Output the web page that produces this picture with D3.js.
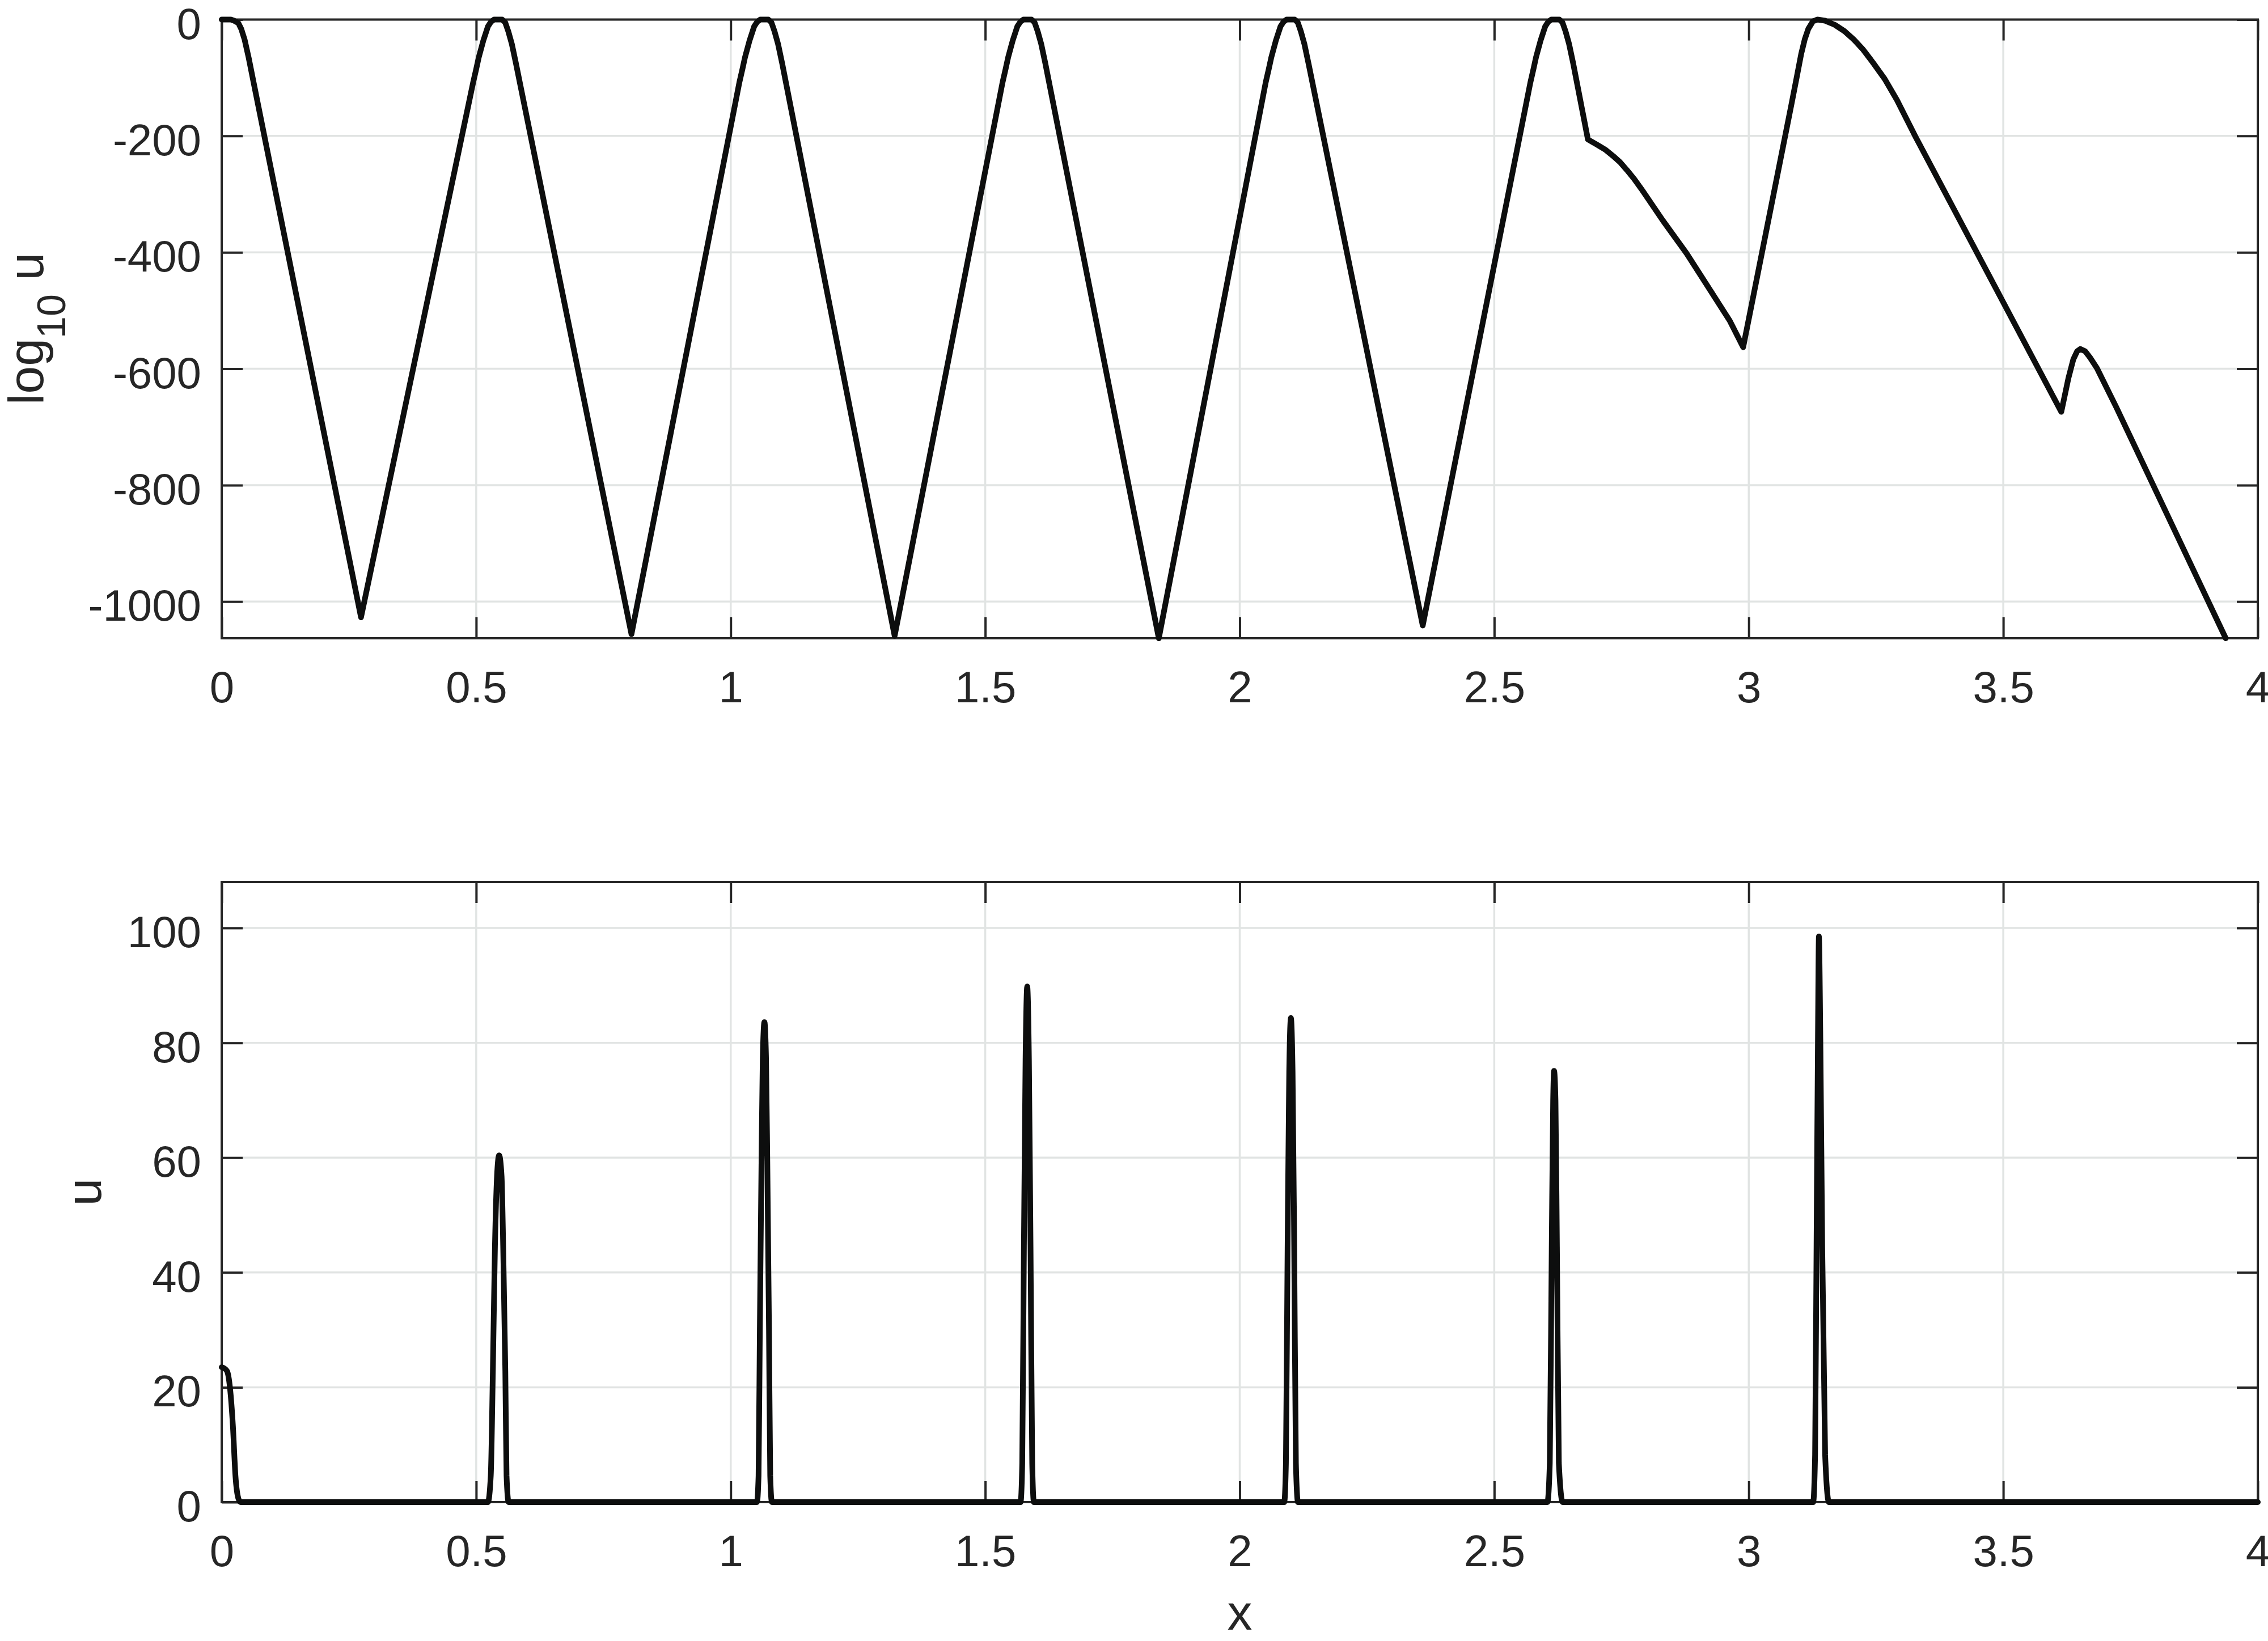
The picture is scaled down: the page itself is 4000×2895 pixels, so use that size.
<!DOCTYPE html>
<html>
<head>
<meta charset="utf-8">
<script src="https://cdn.jsdelivr.net/npm/d3@7"></script>
<style>
  body { margin: 0; background: #fff; }
  text { font-family: "Liberation Sans", Arial, Helvetica, sans-serif; fill: #262626; }
</style>
</head>
<body>
<script>
// x ticks shared by both panels
var xTicks = [0, 0.5, 1, 1.5, 2, 2.5, 3, 3.5, 4];
var xTickLabels = ["0", "0.5", "1", "1.5", "2", "2.5", "3", "3.5", "4"];

// top panel: log10 u
var logTicks = [-1000, -800, -600, -400, -200, 0];
var logTickLabels = ["-1000", "-800", "-600", "-400", "-200", "0"];
var logX = [0, 0.018, 0.0245, 0.0327, 0.0384, 0.0449, 0.0531, 0.0613,
  0.2737,
  0.494, 0.500, 0.505, 0.514, 0.523, 0.529, 0.535, 0.551, 0.557, 0.563, 0.570, 0.578,
  0.805,
  1.017, 1.023, 1.028, 1.037, 1.046, 1.052, 1.058, 1.074, 1.080, 1.086, 1.093, 1.101,
  1.322,
  1.534, 1.540, 1.545, 1.554, 1.563, 1.569, 1.575, 1.591, 1.597, 1.603, 1.610, 1.618,
  1.841,
  2.051, 2.057, 2.062, 2.071, 2.080, 2.086, 2.092, 2.108, 2.114, 2.120, 2.127, 2.135,
  2.3595,
  2.571, 2.577, 2.582, 2.591, 2.600, 2.606, 2.612, 2.628, 2.634, 2.640, 2.647, 2.655, 2.684,
  2.700, 2.719, 2.733, 2.747, 2.761, 2.775, 2.789, 2.803, 2.831, 2.878, 2.925, 2.963, 2.989,
  3.084, 3.094, 3.103, 3.110, 3.117, 3.126, 3.135, 3.150, 3.169, 3.188, 3.206, 3.225, 3.244,
  3.267, 3.291, 3.328,
  3.614, 3.628, 3.6375, 3.645, 3.6515, 3.661, 3.6706, 3.684, 3.722, 3.937];
var logU = [0, 0, -2, -6, -16, -34, -66, -102,
  -1027,
  -108, -85, -65, -36, -12, -4, 0, 0, -5, -20, -42, -75,
  -1056,
  -108, -85, -65, -36, -12, -4, 0, 0, -5, -20, -42, -75,
  -1059,
  -108, -85, -65, -36, -12, -4, 0, 0, -5, -20, -42, -75,
  -1063,
  -108, -85, -65, -36, -12, -4, 0, 0, -5, -20, -42, -75,
  -1041,
  -108, -85, -65, -36, -12, -4, 0, 0, -5, -20, -42, -75, -206,
  -214, -224, -234, -245, -259, -274, -291, -309, -345, -402, -466, -518, -563,
  -145, -100, -59, -34, -16, -3, 0, -2, -9, -20, -34, -52, -74,
  -102, -138, -202,
  -674, -616, -584, -570, -566, -570, -581, -599, -666, -1063];

// bottom panel: u
var uTicks = [0, 20, 40, 60, 80, 100];
var uTickLabels = ["0", "20", "40", "60", "80", "100"];
var uX = [0, 0.005, 0.0106, 0.0163, 0.022, 0.027, 0.0327, 0.037,
  0.523, 0.5286, 0.5327, 0.5368, 0.5409, 0.545, 0.5498, 0.553, 0.5572, 0.5596, 0.5637,
  1.0515, 1.0547, 1.0572, 1.0604, 1.0629, 1.0662, 1.0694, 1.0719, 1.0752, 1.0776, 1.0809,
  1.5694, 1.5727, 1.576, 1.5792, 1.5825, 1.5858, 1.589, 1.5923, 1.5956,
  2.0874, 2.0907, 2.094, 2.0972, 2.1005, 2.1038, 2.107, 2.1103, 2.1144,
  2.6044, 2.6091, 2.6129, 2.6157, 2.6175, 2.6203, 2.6231, 2.6269, 2.6344,
  3.1265, 3.1303, 3.1331, 3.1359, 3.1378, 3.1406, 3.1443, 3.15, 3.1575,
  4];
var uVal = [23.5, 23.3, 22.8, 19.9, 13.3, 4.6, 0.65, 0,
  0, 4.6, 22.8, 44.5, 56.8, 60.4, 56.8, 44.5, 22.8, 4.6, 0,
  0, 4.6, 30, 59, 77.1, 83.6, 77.1, 59, 30, 4.6, 0,
  0, 6.8, 44.5, 77.1, 89.8, 77.1, 44.5, 6.8, 0,
  0, 6.8, 44.5, 74.9, 84.3, 74.9, 44.5, 6.8, 0,
  0, 6.8, 44.5, 69.9, 75.1, 69.9, 44.5, 6.8, 0,
  0, 8.3, 44.5, 80.7, 98.5, 80.7, 44.5, 8.3, 0,
  0];

var W = 4000, H = 2895;
var left = 391, right = 3982;
var ink = "#262626", gridColor = "#e1e4e3";
var tickLen = 37, fontSize = 78;

var svg = d3.select("body").append("svg")
  .attr("width", W).attr("height", H);
svg.append("rect").attr("width", W).attr("height", H).attr("fill", "#fff");

var x = d3.scaleLinear().domain([0, 4]).range([left, right]);

function panel(top, bottom, yDomain, yTicks, yLabels, xs, ys, curve) {
  var y = d3.scaleLinear().domain(yDomain).range([bottom, top]);
  var g = svg.append("g");

  // grid
  g.selectAll(".gx").data(xTicks).enter().append("line")
    .attr("x1", d => x(d)).attr("x2", d => x(d))
    .attr("y1", top).attr("y2", bottom)
    .attr("stroke", gridColor).attr("stroke-width", 3.5);
  g.selectAll(".gy").data(yTicks).enter().append("line")
    .attr("x1", left).attr("x2", right)
    .attr("y1", d => y(d)).attr("y2", d => y(d))
    .attr("stroke", gridColor).attr("stroke-width", 3.5);

  // axes, ticks pointing in on all four sides
  var ax = g.append("g").attr("transform", "translate(" + left + ",0)")
    .call(d3.axisLeft(y).tickValues(yTicks).tickFormat((d, i) => yLabels[i])
      .tickSizeInner(-tickLen).tickSizeOuter(0).tickPadding(36));
  ax.selectAll("text").attr("dy", "0.43em");

  var bx = g.append("g").attr("transform", "translate(0," + bottom + ")")
    .call(d3.axisBottom(x).tickValues(xTicks).tickFormat((d, i) => xTickLabels[i])
      .tickSizeInner(-tickLen).tickSizeOuter(0));
  bx.selectAll("text").attr("y", 113).attr("dy", null);

  g.append("g").attr("transform", "translate(" + right + ",0)")
    .call(d3.axisRight(y).tickValues(yTicks).tickFormat("")
      .tickSizeInner(-tickLen).tickSizeOuter(0));
  g.append("g").attr("transform", "translate(0," + top + ")")
    .call(d3.axisTop(x).tickValues(xTicks).tickFormat("")
      .tickSizeInner(-tickLen).tickSizeOuter(0));

  g.selectAll(".domain").remove();
  g.selectAll(".tick line").attr("stroke", ink).attr("stroke-width", 4);
  g.selectAll(".tick text").attr("font-size", fontSize).attr("fill", ink)
    .attr("font-family", "Liberation Sans, Arial, Helvetica, sans-serif");

  g.append("rect")
    .attr("x", left).attr("y", top)
    .attr("width", right - left).attr("height", bottom - top)
    .attr("fill", "none").attr("stroke", ink).attr("stroke-width", 4);

  // data
  var line = d3.line().x(d => x(d[0])).y(d => y(d[1])).curve(curve);
  g.append("path")
    .datum(d3.zip(xs, ys))
    .attr("d", line)
    .attr("fill", "none")
    .attr("stroke", "#0d0e0e")
    .attr("stroke-width", 10)
    .attr("stroke-linejoin", "round")
    .attr("stroke-linecap", "round");
  return y;
}

panel(34.5, 1126, [-1063, 0], logTicks, logTickLabels, logX, logU, d3.curveLinear);
panel(1556, 2650, [0, 108], uTicks, uTickLabels, uX, uVal, d3.curveMonotoneX);

// axis labels
var ylab1 = svg.append("text")
  .attr("transform", "translate(76,580) rotate(-90)")
  .attr("text-anchor", "middle")
  .attr("font-size", 88);
ylab1.append("tspan").text("log");
ylab1.append("tspan").attr("font-size", 70).attr("dy", 39).text("10");
ylab1.append("tspan").attr("dy", -39).text(" u");

svg.append("text")
  .attr("transform", "translate(178,2103) rotate(-90)")
  .attr("text-anchor", "middle")
  .attr("font-size", 88)
  .text("u");

svg.append("text")
  .attr("x", (left + right) / 2).attr("y", 2875)
  .attr("text-anchor", "middle")
  .attr("font-size", 88)
  .text("x");
</script>
</body>
</html>
